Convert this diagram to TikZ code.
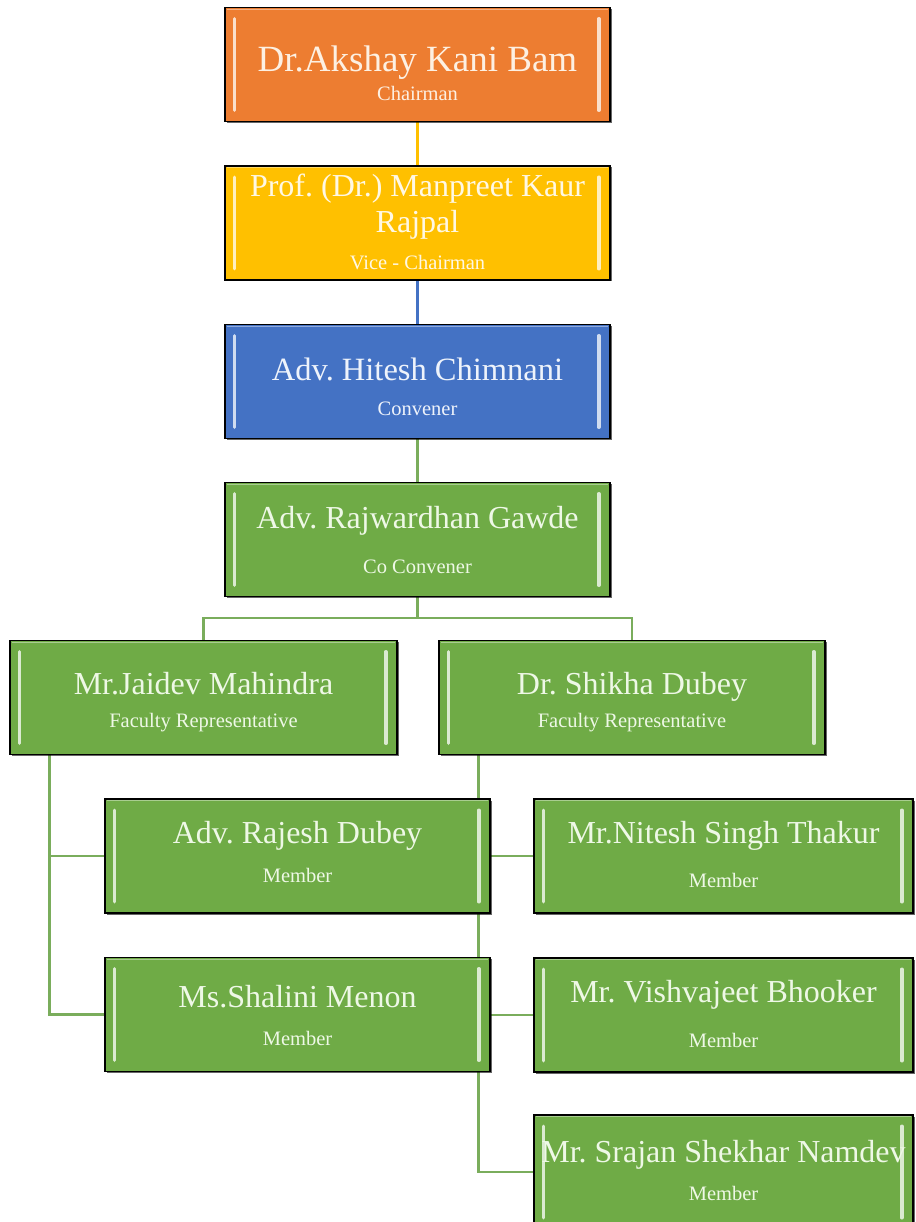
\documentclass[tikz,border=0pt]{standalone}
\usepackage{fontspec}
\setmainfont{Liberation Serif}
\usetikzlibrary{shadows}
\pgfdeclarelayer{bg}
\pgfsetlayers{bg,main}
\definecolor{cOrange}{HTML}{ED7D31}
\definecolor{cYellow}{HTML}{FFC000}
\definecolor{cBlue}{HTML}{4472C4}
\definecolor{cGreen}{HTML}{6FAB46}
\definecolor{cLine}{HTML}{7AAD5C}
\definecolor{tOrange}{HTML}{FDF0E2}
\definecolor{tYellow}{HTML}{FFF8E4}
\definecolor{tBlue}{HTML}{EEF3FB}
\definecolor{tGreen}{HTML}{EEF8E6}
\tikzset{
  box/.style={draw=black, line width=1.5pt, fill=#1, minimum width=385pt,
    minimum height=114pt, inner sep=0pt,
    drop shadow={shadow xshift=1.5pt, shadow yshift=-1.5pt, opacity=0.6, fill=black}},
  ttl/.style={anchor=base, inner sep=0pt, text=#1, font=\fontsize{32}{36}\selectfont},
  sub/.style={anchor=base, inner sep=0pt, text=#1, font=\fontsize{20.5}{24}\selectfont},
  link/.style={draw=#1, line width=2.5pt},
  bar/.style={draw=#1!25!white, line width=3.5pt, line cap=round},
}
\newcommand\bevelbars[2]{%
  \draw[bar=#2] ([xshift=10pt,yshift=-12pt]#1.north west) -- ([xshift=10pt,yshift=12pt]#1.south west);
  \draw[bar=#2] ([xshift=-12pt,yshift=-12pt]#1.north east) -- ([xshift=-12pt,yshift=12pt]#1.south east);
  \draw[draw=#2!60!white, line width=0.7pt] ([xshift=2.5pt,yshift=-2.5pt]#1.north west) -- ([xshift=-2.5pt,yshift=-2.5pt]#1.north east);
}
\begin{document}
\frenchspacing
\begin{tikzpicture}[x=1pt,y=-1pt]
\useasboundingbox (0,0) rectangle (915,1222);

% boxes
\node[box=cOrange] (chair) at (417.5,64.5) {};
\node[box=cYellow] (vice) at (417.5,223) {};
\node[box=cBlue] (conv) at (417.5,381.5) {};
\node[box=cGreen] (coconv) at (417.5,539.5) {};
\node[box=cGreen, minimum width=387pt] (jaidev) at (203.5,697.5) {};
\node[box=cGreen, minimum width=386pt] (shikha) at (632,697.5) {};
\node[box=cGreen] (rajesh) at (297.5,856) {};
\node[box=cGreen] (shalini) at (297.5,1014.5) {};
\node[box=cGreen, minimum width=379pt] (nitesh) at (723.5,856) {};
\node[box=cGreen, minimum width=379pt] (vishva) at (723.5,1015) {};
\node[box=cGreen, minimum width=379pt] (srajan) at (723.5,1172) {};

\bevelbars{chair}{cOrange}
\bevelbars{vice}{cYellow}
\bevelbars{conv}{cBlue}
\bevelbars{coconv}{cGreen}
\bevelbars{jaidev}{cGreen}
\bevelbars{shikha}{cGreen}
\bevelbars{rajesh}{cGreen}
\bevelbars{shalini}{cGreen}
\bevelbars{nitesh}{cGreen}
\bevelbars{vishva}{cGreen}
\bevelbars{srajan}{cGreen}

% texts
\node[ttl=tOrange, font=\fontsize{37}{40}\selectfont] (chair-name) at (417.5,72) {Dr.Akshay Kani Bam};
\node[sub=tOrange] (chair-role) at (417.5,101) {Chairman};
\node[ttl=tYellow] (vice-name1) at (417.5,197) {Prof. (Dr.) Manpreet Kaur};
\node[ttl=tYellow] (vice-name2) at (417.5,233) {Rajpal};
\node[sub=tYellow] (vice-role) at (417.5,270) {Vice - Chairman};
\node[ttl=tBlue, font=\fontsize{32.5}{36}\selectfont] (conv-name) at (417.5,380) {Adv. Hitesh Chimnani};
\node[sub=tBlue] (conv-role) at (417.5,415) {Convener};
\node[ttl=tGreen] (coconv-name) at (417.5,528) {Adv. Rajwardhan Gawde};
\node[sub=tGreen] (coconv-role) at (417.5,573) {Co Convener};
\node[ttl=tGreen] (jaidev-name) at (203.5,694) {Mr.Jaidev Mahindra};
\node[sub=tGreen] (jaidev-role) at (203.5,727) {Faculty Representative};
\node[ttl=tGreen] (shikha-name) at (632,694) {Dr. Shikha Dubey};
\node[sub=tGreen] (shikha-role) at (632,727) {Faculty Representative};
\node[ttl=tGreen] (rajesh-name) at (297.5,843) {Adv. Rajesh Dubey};
\node[sub=tGreen] (rajesh-role) at (297.5,882) {Member};
\node[ttl=tGreen] (shalini-name) at (297.5,1007) {Ms.Shalini Menon};
\node[sub=tGreen] (shalini-role) at (297.5,1045) {Member};
\node[ttl=tGreen] (nitesh-name) at (723.5,843) {Mr.Nitesh Singh Thakur};
\node[sub=tGreen] (nitesh-role) at (723.5,887) {Member};
\node[ttl=tGreen] (vishva-name) at (723.5,1002) {Mr. Vishvajeet Bhooker};
\node[sub=tGreen] (vishva-role) at (723.5,1047) {Member};
\node[ttl=tGreen] (srajan-name) at (723.5,1162) {Mr. Srajan Shekhar Namdev};
\node[sub=tGreen] (srajan-role) at (723.5,1200) {Member};

% connectors (behind the boxes)
\begin{pgfonlayer}{bg}
  \fill[white] (0,0) rectangle (915,1222);
  \draw[link=cYellow] (chair.south) -- (vice.north);
  \draw[link=cBlue] (vice.south) -- (conv.north);
  \draw[link=cLine] (conv.south) -- (coconv.north);
  \coordinate (split) at (417.5,618);
  \draw[link=cLine] (coconv.south) -- (split);
  \draw[link=cLine] (split) -| (jaidev.north);
  \draw[link=cLine] (split) -| (shikha.north);
  \coordinate (ltrunk) at ([xshift=40pt]jaidev.south west);
  \draw[link=cLine] (ltrunk) |- (rajesh.west);
  \draw[link=cLine] (ltrunk) |- (shalini.west);
  \coordinate (rtrunk) at ([xshift=40pt]shikha.south west);
  \draw[link=cLine] (rtrunk) |- (nitesh.west);
  \draw[link=cLine] (rtrunk) |- (vishva.west);
  \draw[link=cLine] (rtrunk) |- (srajan.west);
\end{pgfonlayer}
\end{tikzpicture}
\end{document}
